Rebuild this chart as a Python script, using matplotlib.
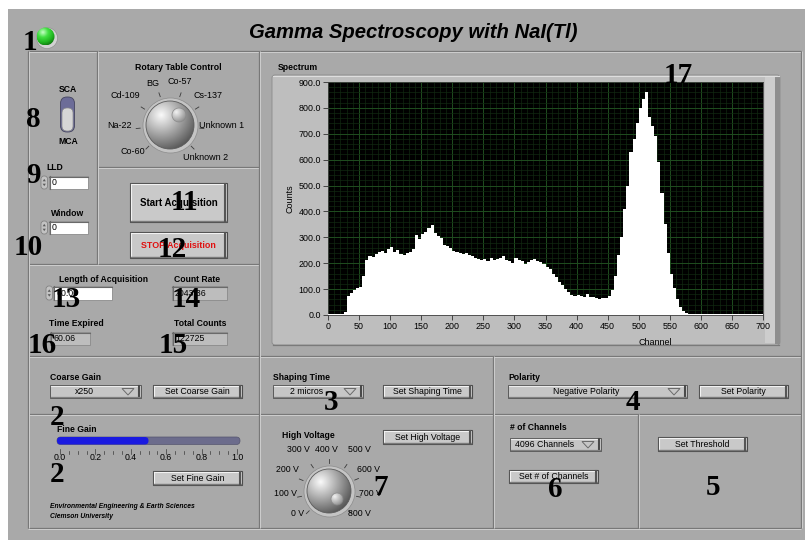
import matplotlib
matplotlib.use("Agg")
import matplotlib.pyplot as plt
from matplotlib.patches import Rectangle, FancyBboxPatch, Circle, Polygon
from matplotlib.ticker import FixedLocator, MultipleLocator, FormatStrFormatter
from matplotlib.colors import LinearSegmentedColormap
import numpy as np

# ---------------- data ----------------
channels = list(range(0, 700, 5))          # bin start channel (5-channel bins)
counts = [
    4, 4, 5, 4, 4, 12,
    75, 86, 96, 104, 110, 150,
    212, 228, 224, 236, 242, 248, 238, 256,
    264, 242, 252, 236, 232, 238, 242, 256,
    308, 294, 314, 322, 336, 346, 318, 304,
    298, 272, 268, 258, 248, 244, 238, 234,
    240, 232, 228, 222, 218, 212, 218, 208,
    220, 212, 215, 221, 226, 214, 208, 200,
    222, 214, 208, 198, 206, 212, 216, 210,
    204, 196, 186, 176, 160, 145, 128, 114,
    100, 88, 76, 72, 76, 74, 70, 80,
    68, 70, 64, 60, 64, 66, 72, 98,
    150, 230, 300, 410, 500, 630, 680, 740,
    800, 835, 860, 765, 730, 690, 590, 470,
    350, 240, 160, 105, 60, 32, 15, 7,
    4, 3, 4, 5, 3, 4, 4, 3, 5, 4, 4, 3,
    4, 5, 4, 3, 4, 4, 5, 3, 4, 4, 3, 5,
]
channel_ticks = [0, 50, 100, 150, 200, 250, 300, 350, 400, 450, 500, 550, 600, 650, 700]
count_ticks = [0, 100, 200, 300, 400, 500, 600, 700, 800, 900]

title = "Gamma Spectroscopy with NaI(Tl)"
rotary_labels = ["Co-60", "Na-22", "Cd-109", "BG", "Co-57", "Cs-137", "Unknown 1", "Unknown 2"]
hv_labels = ["0 V", "100 V", "200 V", "300 V", "400 V", "500 V", "600 V", "700 V", "800 V"]
fine_gain_ticks = [0.0, 0.2, 0.4, 0.6, 0.8, 1.0]
fine_gain_value = 0.5
lld_value = "0"
window_value = "0"
length_of_acquisition = "60.00"
count_rate = "2043.36"
time_expired = "60.06"
total_counts = "122725"
coarse_gain = "x250"
shaping_time = "2 micros"
polarity = "Negative Polarity"
n_channels = "4096 Channels"
callout_labels = ["1", "8", "9", "10", "11", "12", "13", "14", "16", "15",
                  "2", "2", "3", "7", "4", "6", "5", "17"]

# ---------------- figure ----------------
W, H = 805, 540
fig = plt.figure(figsize=(W / 100, H / 100), dpi=100)
fig.patch.set_facecolor("white")
bg = fig.add_axes([0, 0, 1, 1])
bg.axis("off")

PANEL = "#a9a9a9"
DARK = "#787878"
LIGHT = "#cecece"
SANS = "Liberation Sans"
SERIF = "Liberation Serif"

bg.add_patch(Rectangle((8, 9), 797, 531, fc=PANEL, ec="none", zorder=0))


def txt(x, y, s, size=6.0, weight="normal", ha="center", va="center",
        color="black", style="normal", family=SANS, z=6):
    bg.text(x, y, s, fontsize=size, fontweight=weight, ha=ha, va=va,
            color=color, fontstyle=style, family=family, zorder=z)


def etched_h(x0, x1, y):
    bg.plot([x0, x1], [y, y], color=DARK, lw=0.9, zorder=1, solid_capstyle="butt")
    bg.plot([x0, x1], [y + 1, y + 1], color=LIGHT, lw=0.7, zorder=1, solid_capstyle="butt")


def etched_v(x, y0, y1):
    bg.plot([x, x], [y0, y1], color=DARK, lw=0.9, zorder=1, solid_capstyle="butt")
    bg.plot([x + 1, x + 1], [y0, y1], color=LIGHT, lw=0.7, zorder=1, solid_capstyle="butt")


def button(x0, y0, x1, y1, label, size=6.3, color="black", weight="normal", face="#c9c9c9"):
    bg.add_patch(Rectangle((x0, y0), x1 - x0, y1 - y0, fc=face, ec="#4c4c4c", lw=0.8, zorder=3))
    bg.plot([x0 + 1, x1 - 2], [y0 + 1, y0 + 1], color="#f2f2f2", lw=0.8, zorder=4)
    bg.plot([x0 + 1, x0 + 1], [y0 + 1, y1 - 2], color="#f2f2f2", lw=0.8, zorder=4)
    bg.plot([x0 + 1, x1 - 1.5], [y1 - 1.3, y1 - 1.3], color="#7a7a7a", lw=1.0, zorder=4)
    bg.plot([x1 - 1.6, x1 - 1.6], [y0 + 1, y1 - 1], color="#555555", lw=1.5, zorder=4)
    txt((x0 + x1) / 2, (y0 + y1) / 2 + 0.3, label, size=size, color=color, weight=weight)


def ring(x0, y0, x1, y1, label):
    bg.add_patch(Rectangle((x0, y0), x1 - x0, y1 - y0, fc="#c6c6c6", ec="#5a5a5a", lw=0.7, zorder=3))
    bg.plot([x0 + 1, x1 - 2], [y0 + 1, y0 + 1], color="#ececec", lw=0.8, zorder=4)
    bg.plot([x1 - 1.6, x1 - 1.6], [y0 + 1, y1 - 1], color="#4a4a4a", lw=1.5, zorder=4)
    bg.plot([x0 + 1, x1 - 1.5], [y1 - 1.2, y1 - 1.2], color="#808080", lw=0.9, zorder=4)
    ax_c = x1 - 13
    ym = (y0 + y1) / 2
    bg.add_patch(Polygon([[ax_c - 6, ym - 3], [ax_c + 6, ym - 3], [ax_c, ym + 3.5]],
                         closed=True, fc="none", ec="#6a6a6a", lw=0.7, zorder=5))
    txt((x0 + x1 - 22) / 2, ym + 0.3, label, size=6.3)


def incdec(x0, y0, y1):
    bg.add_patch(FancyBboxPatch((x0, y0), 6.5, y1 - y0, boxstyle="round,pad=0,rounding_size=3",
                                fc="#c2c2c2", ec="#7a7a7a", lw=0.5, zorder=3))
    xm = x0 + 3.25
    ym = (y0 + y1) / 2
    bg.add_patch(Polygon([[xm - 1.6, ym - 1.2], [xm + 1.6, ym - 1.2], [xm, ym - 3.6]],
                         fc="#5a5a5a", ec="none", zorder=4))
    bg.add_patch(Polygon([[xm - 1.6, ym + 1.2], [xm + 1.6, ym + 1.2], [xm, ym + 3.6]],
                         fc="#5a5a5a", ec="none", zorder=4))


def box(x0, y0, x1, y1, value, face="white"):
    bg.add_patch(Rectangle((x0, y0), x1 - x0, y1 - y0, fc=face, ec="#8a8a8a", lw=0.6, zorder=3))
    bg.plot([x0, x1], [y0 + 0.5, y0 + 0.5], color="#6a6a6a", lw=0.8, zorder=4)
    bg.plot([x0 + 0.5, x0 + 0.5], [y0, y1], color="#6a6a6a", lw=0.8, zorder=4)
    txt(x0 + 3, (y0 + y1) / 2 + 0.3, value, size=6.3, ha="left")


def sphere(cx, cy, r, cmap="gray", lo=0.32, hi=0.98, z=4):
    n = 120
    yy, xx = np.mgrid[-1:1:n * 1j, -1:1:n * 1j]
    d = np.hypot(xx + 0.38, yy + 0.42)
    shade = np.clip(hi - (hi - lo) * d / 1.6, lo, hi)
    im = bg.imshow(shade, cmap=cmap, vmin=0, vmax=1, extent=(cx - r, cx + r, cy + r, cy - r),
                   zorder=z, interpolation="bilinear")
    im.set_clip_path(Circle((cx, cy), r, transform=bg.transData))


def knob(cx, cy, r, dimple_xy, dimple_r, angles, tick_r0, tick_r1):
    bg.add_patch(Circle((cx + 0.5, cy + 0.5), r + 3.5, fc="#c4c4c4", ec="#8c8c8c", lw=0.5, zorder=3))
    sphere(cx, cy, r)
    bg.add_patch(Circle((cx, cy), r, fc="none", ec="#5c5c5c", lw=0.6, zorder=5))
    dx, dy = dimple_xy
    sphere(dx, dy, dimple_r, lo=0.55, hi=0.95, z=6)
    bg.add_patch(Circle((dx, dy), dimple_r, fc="none", ec="#8a8a8a", lw=0.5, zorder=7))
    for a in angles:
        t = np.deg2rad(a)
        bg.plot([cx + tick_r0 * np.cos(t), cx + tick_r1 * np.cos(t)],
                [cy - tick_r0 * np.sin(t), cy - tick_r1 * np.sin(t)],
                color="#3a3a3a", lw=0.6, zorder=5)


# ---------------- panel frame lines ----------------
etched_h(28, 801, 51)
etched_h(28, 801, 356)
etched_h(28, 801, 414)
etched_h(28, 801, 528)
etched_h(97, 259, 167)
etched_h(28, 259, 264)
etched_v(28, 51, 528)
etched_v(801, 51, 528)
etched_v(97, 51, 264)
etched_v(259, 51, 528)
etched_v(493, 356, 528)
etched_v(638, 414, 528)

# ---------------- title + LED ----------------
txt(413, 32, title, size=14.6, weight="bold", style="italic")
bg.add_patch(Circle((47, 38), 10.5, fc="#d2d2d2", ec="#8a8a8a", lw=0.4, zorder=3))
green = LinearSegmentedColormap.from_list("led", ["#0b5e0b", "#1fb51f", "#42e042", "#c8ffc8"])
sphere(45.5, 36.5, 9, cmap=green, lo=0.05, hi=1.0)

# ---------------- SCA / MCA toggle ----------------
txt(68, 89, "SCA", size=6.2, weight="bold")
txt(68, 141, "MCA", size=6.2, weight="bold")
bg.add_patch(FancyBboxPatch((60.5, 97), 14, 35, boxstyle="round,pad=0,rounding_size=6.5",
                            fc="#6c6c98", ec="#44445e", lw=0.6, zorder=3))
bg.add_patch(FancyBboxPatch((62, 108), 11, 23, boxstyle="round,pad=0,rounding_size=5",
                            fc="#d6d6d6", ec="#8a8a8a", lw=0.5, zorder=4))

# ---------------- LLD / Window ----------------
txt(55, 167, "LLD", size=6.2, weight="bold")
incdec(41, 176, 189)
box(49, 176, 88, 189, lld_value)
txt(68, 213, "Window", size=6.2, weight="bold")
incdec(41, 221, 234)
box(49, 221, 88, 234, window_value)

# ---------------- Rotary table ----------------
txt(178, 67, "Rotary Table Control", size=6.3, weight="bold")
rot_angles = [225, 186, 148, 109, 71, 32, -6, -45]
knob(170, 125, 24, (179, 115), 7, rot_angles, 30, 34)
rot_pos = [(133, 152, "center"), (107, 126, "left"), (125, 96, "center"), (153, 83, "center"),
           (180, 82, "center"), (208, 96, "center"), (199, 126, "left"), (206, 157, "center")]
for lab, (x, y, ha) in zip(rotary_labels, rot_pos):
    txt(x, y, lab, size=6.5, ha=ha)

# ---------------- Start / Stop ----------------
button(130, 183, 227, 222, "Start Acquisition", size=7.0, weight="bold")
button(130, 232, 227, 258, "STOP Acquisition", size=6.4, weight="bold", color="#e01010")

# ---------------- indicators ----------------
txt(103, 279, "Length of Acquisition", size=6.2, weight="bold")
incdec(46, 286, 300)
box(53, 286, 112, 300, length_of_acquisition)
txt(197, 279, "Count Rate", size=6.2, weight="bold")
box(172, 286, 227, 300, count_rate, face="#bdbdbd")
txt(76, 324, "Time Expired", size=6.2, weight="bold")
box(50, 332, 90, 345, time_expired, face="#bdbdbd")
txt(200, 324, "Total Counts", size=6.2, weight="bold")
box(172, 332, 227, 345, total_counts, face="#bdbdbd")

# ---------------- Spectrum frame ----------------
txt(278, 67, "Spectrum", size=6.2, weight="bold", ha="left")
bg.add_patch(FancyBboxPatch((272, 75), 508, 270, boxstyle="round,pad=0,rounding_size=3",
                            fc="#bebebe", ec="#8a8a8a", lw=0.6, zorder=2))
bg.add_patch(Rectangle((765, 77), 10, 266, fc="#cdcdcd", ec="none", zorder=2))
bg.add_patch(Rectangle((775, 77), 5, 267, fc="#8e8e8e", ec="none", zorder=2))
bg.plot([273, 779], [76, 76], color="#dedede", lw=0.8, zorder=2)
bg.plot([273, 779], [344.5, 344.5], color="#7a7a7a", lw=0.9, zorder=2)

# ---------------- Coarse / Fine gain ----------------
txt(50, 377, "Coarse Gain", size=6.2, weight="bold", ha="left")
ring(50, 385, 141, 398, coarse_gain)
button(153, 385, 242, 398, "Set Coarse Gain")
txt(57, 429, "Fine Gain", size=6.2, weight="bold", ha="left")
sx0, sx1 = 60, 237
bg.add_patch(FancyBboxPatch((57, 437), 183, 7.5, boxstyle="round,pad=0,rounding_size=3.7",
                            fc="#6c6c8c", ec="#55556e", lw=0.5, zorder=3))
bg.add_patch(FancyBboxPatch((57, 437), (sx0 - 57) + fine_gain_value * (sx1 - sx0), 7.5,
                            boxstyle="round,pad=0,rounding_size=3.7",
                            fc="#1a1ae0", ec="none", zorder=4))
for v in np.arange(0, 1.0001, 0.05):
    xv = sx0 + v * (sx1 - sx0)
    major = abs(v * 5 - round(v * 5)) < 1e-6
    bg.plot([xv, xv], [449 if major else 450.5, 453.5], color="#3a3a3a", lw=0.5, zorder=4)
for v in fine_gain_ticks:
    txt(sx0 + v * (sx1 - sx0), 458, f"{v:.1f}", size=6.3)
button(153, 471, 242, 485, "Set Fine Gain")
txt(50, 507, "Environmental Engineering & Earth Sciences", size=4.9, weight="bold",
    style="italic", ha="left")
txt(50, 517, "Clemson University", size=4.9, weight="bold", style="italic", ha="left")

# ---------------- Shaping time / HV ----------------
txt(273, 377, "Shaping Time", size=6.2, weight="bold", ha="left")
ring(273, 385, 363, 398, shaping_time)
button(383, 385, 472, 398, "Set Shaping Time")
txt(282, 436, "High Voltage", size=6.2, weight="bold", ha="left")
button(383, 430, 472, 444, "Set High Voltage")
hv_angles = [225, 191, 158, 124, 90, 56, 23, -11, -45]
knob(329, 491, 22, (337, 499), 6, hv_angles, 28, 32)
hv_pos = [(298, 513), (285, 494), (287, 469), (298, 449), (326, 449),
          (359, 449), (368, 469), (370, 494), (359, 513)]
for lab, (x, y) in zip(hv_labels, hv_pos):
    txt(x, y, lab, size=6.3)

# ---------------- Polarity / channels / threshold ----------------
txt(508, 377, "Polarity", size=6.2, weight="bold", ha="left")
ring(508, 385, 687, 398, polarity)
button(699, 385, 788, 398, "Set Polarity")
txt(510, 428, "# of Channels", size=6.2, weight="bold", ha="left")
ring(510, 438, 601, 451, n_channels)
button(509, 470, 598, 483, "Set # of Channels")
button(658, 437, 747, 451, "Set Threshold")

# ---------------- Spectrum graph ----------------
L, R, T, B = 328, 763, 82, 315
ax = fig.add_axes([L / W, 1 - B / H, (R - L) / W, (B - T) / H])
ax.set_zorder(5)
ax.set_facecolor("black")
edges = channels + [700]
ax.stairs(counts, edges, fill=True, color="white", zorder=3)
ax.set_xlim(0, 700)
ax.set_ylim(0, 900)
ax.xaxis.set_major_locator(FixedLocator(channel_ticks))
ax.yaxis.set_major_locator(FixedLocator(count_ticks))
ax.xaxis.set_minor_locator(MultipleLocator(10))
ax.yaxis.set_minor_locator(MultipleLocator(20))
ax.yaxis.set_major_formatter(FormatStrFormatter("%.1f"))
ax.grid(which="major", color="#1f4d1f", lw=0.7, zorder=1)
ax.grid(which="minor", color="#112811", lw=0.5, zorder=1)
ax.set_axisbelow(True)
ax.tick_params(which="major", length=3.5, width=0.6, color="#303030", labelsize=6.4, pad=1.5)
ax.tick_params(which="minor", length=0)
for lab in ax.get_xticklabels() + ax.get_yticklabels():
    lab.set_family(SANS)
for s in ax.spines.values():
    s.set_color("#404040")
    s.set_linewidth(0.6)
ax.set_xlabel("Channel", fontsize=6.5, family=SANS)
ax.set_ylabel("Counts", fontsize=6.5, family=SANS)
ax.xaxis.set_label_coords((655 - L) / (R - L), -(338 - B) / (B - T))
ax.yaxis.set_label_coords(-(L - 294) / (R - L), 0.5)

# ---------------- callout numbers ----------------
callout_pos = [(30, 50), (33, 127), (33, 183), (28, 255), (184, 210), (172, 257),
               (66, 307), (186, 307), (42, 353), (173, 353), (57, 425), (57, 482),
               (331, 410), (381, 495), (633, 410), (555, 497), (713, 495), (678, 83)]
for lab, (x, y) in zip(callout_labels[:-1], callout_pos[:-1]):
    bg.text(x, y, lab, fontsize=21, fontweight="bold", family=SERIF, ha="center",
            va="baseline", color="black", zorder=20)
x17, y17 = callout_pos[-1]
fig.text(x17 / W, 1 - y17 / H, callout_labels[-1], fontsize=21, fontweight="bold", family=SERIF,
         ha="center", va="baseline", color="black", zorder=30)

bg.set_xlim(0, W)
bg.set_ylim(H, 0)
bg.set_aspect("auto")
fig.savefig("out.png", dpi=100, facecolor="white")
